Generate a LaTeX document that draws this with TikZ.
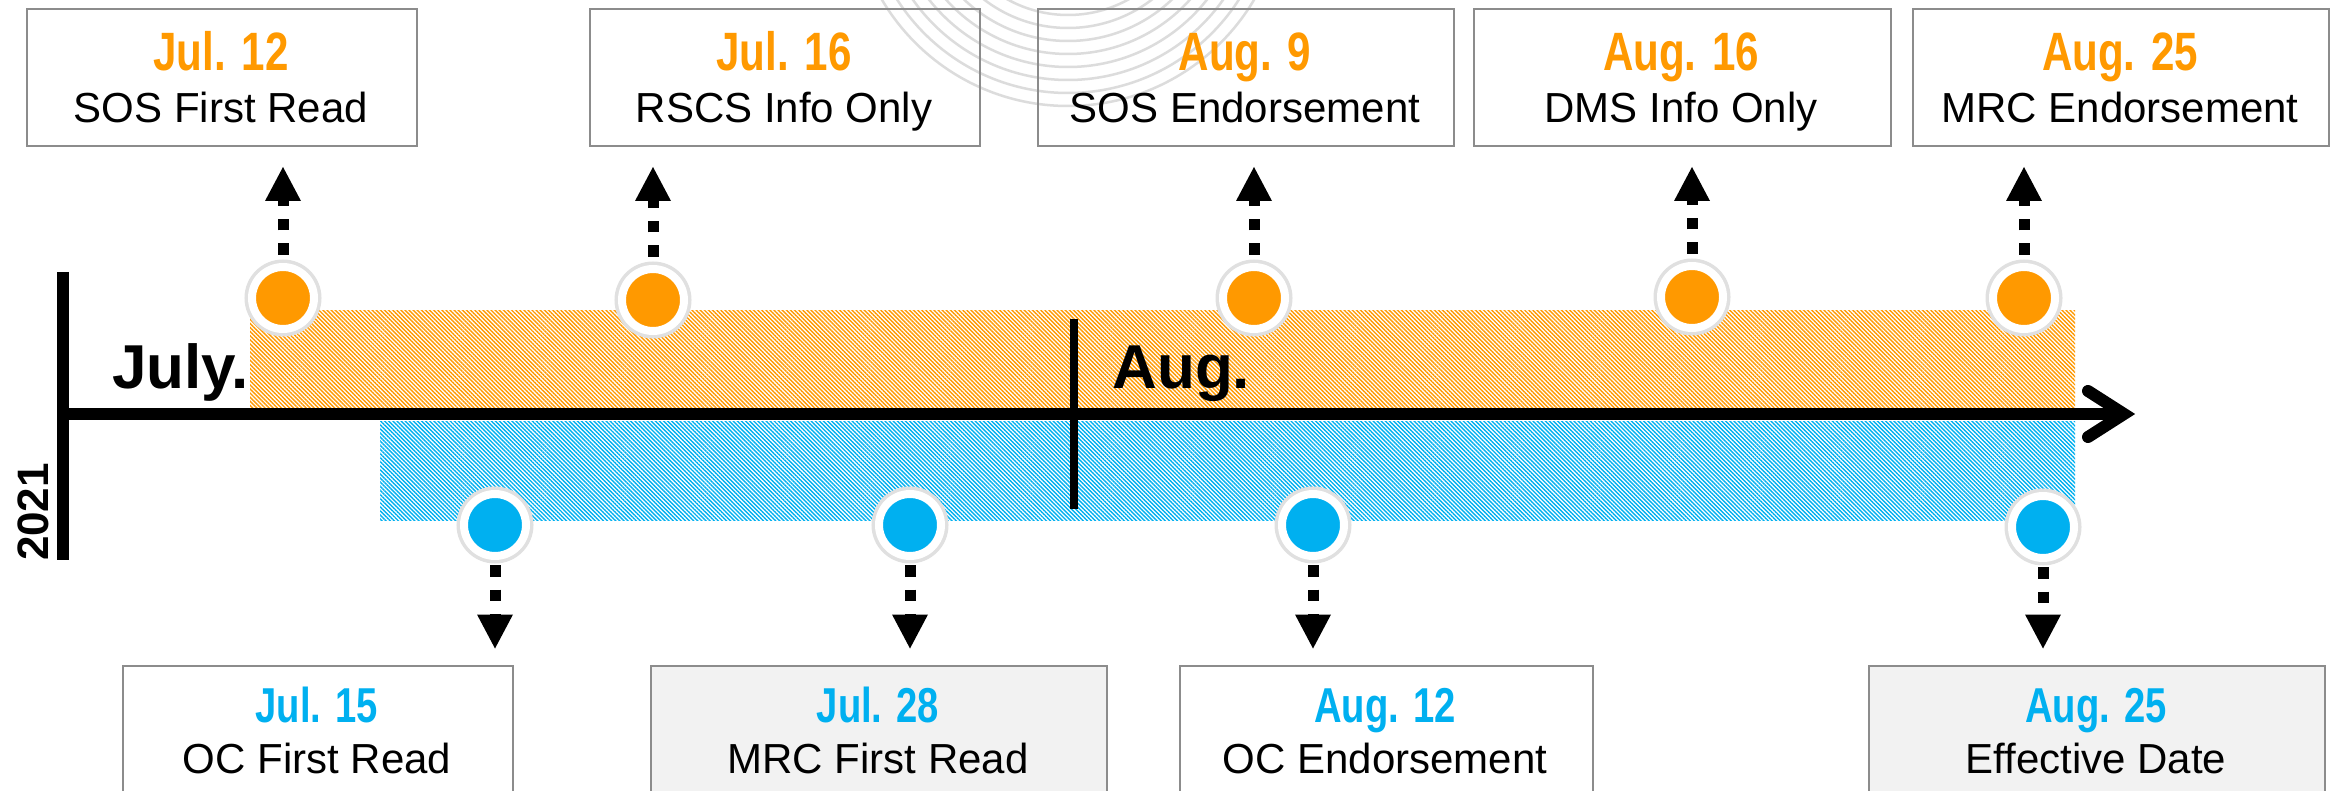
\documentclass[tikz,border=0pt]{standalone}
\usepackage{fontspec}
\setmainfont{Liberation Sans}
\newfontfamily\datefont[FakeStretch=0.78]{Liberation Sans}
\usetikzlibrary{arrows.meta,patterns.meta}
\definecolor{orgC}{HTML}{FF9900}
\definecolor{bluC}{HTML}{00B0F0}
\definecolor{boxG}{HTML}{8C8C8C}
\definecolor{boxF}{HTML}{F2F2F2}
\definecolor{wmark}{HTML}{DCDCDC}
\begin{document}
\begin{tikzpicture}[x=0.5pt,y=-0.5pt,
  evbox/.style={draw=boxG, line width=1pt, inner sep=0pt, anchor=north west, minimum height=68.5pt},
  gbox/.style={evbox, fill=boxF},
  wbox/.style={evbox, fill=white},
  dtop/.style={anchor=base, inner sep=0pt, font=\datefont\bfseries\fontsize{27pt}{30pt}\selectfont},
  dbot/.style={anchor=base, inner sep=0pt, font=\datefont\bfseries\fontsize{24.5pt}{28pt}\selectfont},
  lbl/.style={anchor=base, inner sep=0pt, font=\fontsize{21pt}{25pt}\selectfont},
  evdot/.style={circle, inner sep=0pt, minimum size=31pt, draw=white, line width=4pt, preaction={draw=black!12, line width=7.5pt}},
  conn/.style={line width=5.5pt, dash pattern=on 5.75pt off 6.5pt, -{Triangle[width=18pt,length=17pt,line width=0pt]}},
  month/.style={anchor=base west, inner sep=0pt, font=\bfseries\fontsize{31pt}{34pt}\selectfont},
  axisline/.style={line width=6pt},
  hatch/.style={pattern={Lines[angle=-45,distance=1.45pt,line width=0.7pt]}}
]
\clip (0,0) rectangle (2341,791);
\fill[white] (0,0) rectangle (2341,791);

% faint watermark: concentric circles, only their lower parts fall in the picture
\coordinate (wm) at (1068,-110);
\foreach \rr in {62.5,69,...,108}
  \draw[wmark, line width=1.25pt] (wm) circle[radius=\rr pt];

% hatched bands
\fill[hatch, pattern color=orgC] (250,311) rectangle (2075,408);
\fill[hatch, pattern color=bluC] (380,421) rectangle (2075,520);

% axes
\coordinate (v0) at (63,272);
\coordinate (v1) at (63,560);
\coordinate (ax0) at (57,414);
\coordinate (ax1) at (2124,414);
\coordinate (m0) at (1074,319);
\coordinate (m1) at (1074,509);
\draw[axisline] (v0) -- (v1);
\draw[axisline] (ax0) -- (ax1);
\draw[axisline, line cap=round, line join=miter] (ax1) ++(-36,-23) -- (ax1) -- ++(-36,23);
\draw[line width=4pt] (m0) -- (m1);

\node[month] (jul) at (112,388) {July.};
\node[month] (aug) at (1112,388) {Aug.};
\node[rotate=90, anchor=base, inner sep=0pt, font=\bfseries\fontsize{22pt}{24pt}\selectfont] (yr) at (48,512) {2021};

% top boxes
\node[evbox, minimum width=195pt] (b1) at (26,8) {};
\node[evbox, minimum width=195pt] (b2) at (589,8) {};
\node[evbox, minimum width=208pt] (b3) at (1037,8) {};
\node[evbox, minimum width=208.5pt] (b4) at (1473,8) {};
\node[evbox, minimum width=208pt] (b5) at (1912,8) {};

\node[dtop, text=orgC] (t1) at (221,71) {Jul. 12};
\node[lbl] (l1) at (221,123) {SOS First Read};
\node[dtop, text=orgC] (t2) at (784,71) {Jul. 16};
\node[lbl] (l2) at (784,123) {RSCS Info Only};
\node[dtop, text=orgC] (t3) at (1245,71) {Aug. 9};
\node[lbl] (l3) at (1245,123) {SOS Endorsement};
\node[dtop, text=orgC] (t4) at (1681,71) {Aug. 16};
\node[lbl] (l4) at (1681,123) {DMS Info Only};
\node[dtop, text=orgC] (t5) at (2120,71) {Aug. 25};
\node[lbl] (l5) at (2120,123) {MRC Endorsement};

% bottom boxes
\node[wbox, minimum width=195pt, minimum height=70pt] (c1) at (122,665) {};
\node[gbox, minimum width=228pt, minimum height=70pt] (c2) at (650,665) {};
\node[wbox, minimum width=206.5pt, minimum height=70pt] (c3) at (1179,665) {};
\node[gbox, minimum width=228pt, minimum height=70pt] (c4) at (1868,665) {};

\node[dbot, text=bluC] (s1) at (317,722) {Jul. 15};
\node[lbl] (k1) at (317,773) {OC First Read};
\node[dbot, text=bluC] (s2) at (878,722) {Jul. 28};
\node[lbl] (k2) at (878,773) {MRC First Read};
\node[dbot, text=bluC] (s3) at (1385,722) {Aug. 12};
\node[lbl] (k3) at (1385,773) {OC Endorsement};
\node[dbot, text=bluC] (s4) at (2096,722) {Aug. 25};
\node[lbl] (k4) at (2096,773) {Effective Date};

% dots
\node[evdot, fill=orgC] (d1) at (283,298) {};
\node[evdot, fill=orgC] (d2) at (653,300) {};
\node[evdot, fill=orgC] (d3) at (1254,298) {};
\node[evdot, fill=orgC] (d4) at (1692,297) {};
\node[evdot, fill=orgC] (d5) at (2024,298) {};
\node[evdot, fill=bluC] (e1) at (495,525) {};
\node[evdot, fill=bluC] (e2) at (910,525) {};
\node[evdot, fill=bluC] (e3) at (1313,525) {};
\node[evdot, fill=bluC] (e4) at (2043,527) {};

% connectors
\foreach \dd/\bb in {d1/b1,d2/b2,d3/b3,d4/b4,d5/b5}
  \draw[conn, shorten <=4pt, shorten >=10pt] (\dd.north) -- (\dd.north |- \bb.south);
\foreach \dd/\bb in {e1/c1,e2/c2,e3/c3,e4/c4}
  \draw[conn, shorten <=2.5pt, shorten >=8.25pt] (\dd.south) -- (\dd.south |- \bb.north);
\end{tikzpicture}
\end{document}
